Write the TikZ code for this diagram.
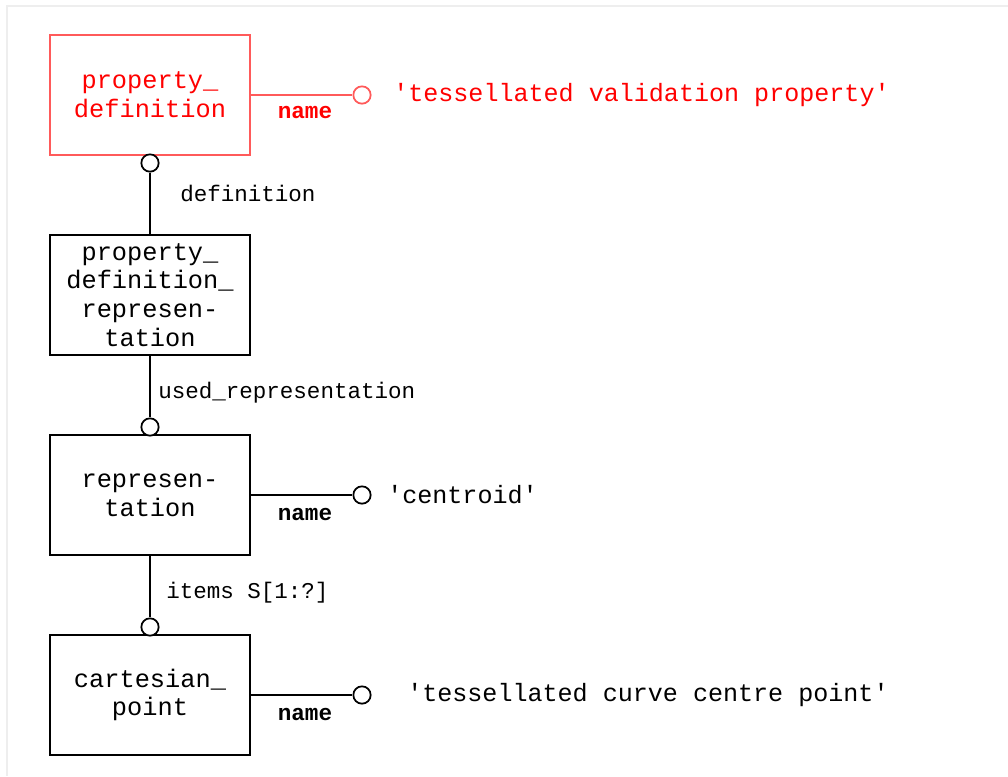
\documentclass[tikz,border=0pt]{standalone}
\usepackage{fontspec}
\newfontfamily\mono{Liberation Mono}
\definecolor{pred}{RGB}{255,0,0}
\definecolor{pline}{RGB}{255,90,90}
\definecolor{frame}{RGB}{238,238,238}
\begin{document}
\begin{tikzpicture}[x=0.75pt,y=-0.75pt,
  box/.style={draw, line width=1.3pt, minimum width=150pt, minimum height=90pt, inner sep=0pt, align=center, font=\mono\fontsize{19}{21.5}\selectfont},
  circ/.style={circle, draw, line width=1.3pt, minimum size=13pt, inner sep=0pt, fill=white},
  conn/.style={line width=1.3pt},
  lbl/.style={anchor=west, inner sep=0pt, font=\mono\fontsize{16.9}{18}\selectfont},
  namelbl/.style={inner sep=0pt, font=\mono\bfseries\fontsize{17}{18}\selectfont},
  val/.style={anchor=west, inner sep=0pt, font=\mono\fontsize{18.8}{21}\selectfont}]
\useasboundingbox (0,0) rectangle (1008,776);
\fill[white] (0,0) rectangle (1008,776);
\draw[frame, line width=1pt] (7,776) -- (7,6) -- (1008,6);
% boxes
\node[box, draw=pline, text=pred] (pd) at (150,95) {property\_\\definition};
\node[box] (pdr) at (150,295) {property\_\\definition\_\\represen-\\tation};
\node[box] (rep) at (150,495) {represen-\\tation};
\node[box] (cp) at (150,695) {cartesian\_\\point};
% circles
\node[circ] (c1) at (150,163) {};
\node[circ, draw=pline] (c2) at (362,95) {};
\node[circ] (c3) at (150,427) {};
\node[circ] (c4) at (362,495) {};
\node[circ] (c5) at (150,627) {};
\node[circ] (c6) at (362,695) {};
% connectors
\draw[conn] (c1) -- (pdr.north);
\draw[conn, pline] (pd.east) -- (c2);
\draw[conn] (pdr.south) -- (c3);
\draw[conn] (rep.east) -- (c4);
\draw[conn] (rep.south) -- (c5);
\draw[conn] (cp.east) -- (c6);
% labels
\node[lbl] (l1) at (180,193) {definition};
\node[lbl] (l2) at (158,393) {used\_representation};
\node[lbl] (l3) at (166,593) {items S[1:?]};
\node[namelbl, text=pred] (n1) at (305,113) {name};
\node[namelbl] (n2) at (305,514) {name};
\node[namelbl] (n3) at (305,714) {name};
% values
\node[val, text=pred] (v1) at (393,95) {'tessellated validation property'};
\node[val] (v2) at (387,495) {'centroid'};
\node[val] (v3) at (407,695) {'tessellated curve centre point'};
\end{tikzpicture}
\end{document}
